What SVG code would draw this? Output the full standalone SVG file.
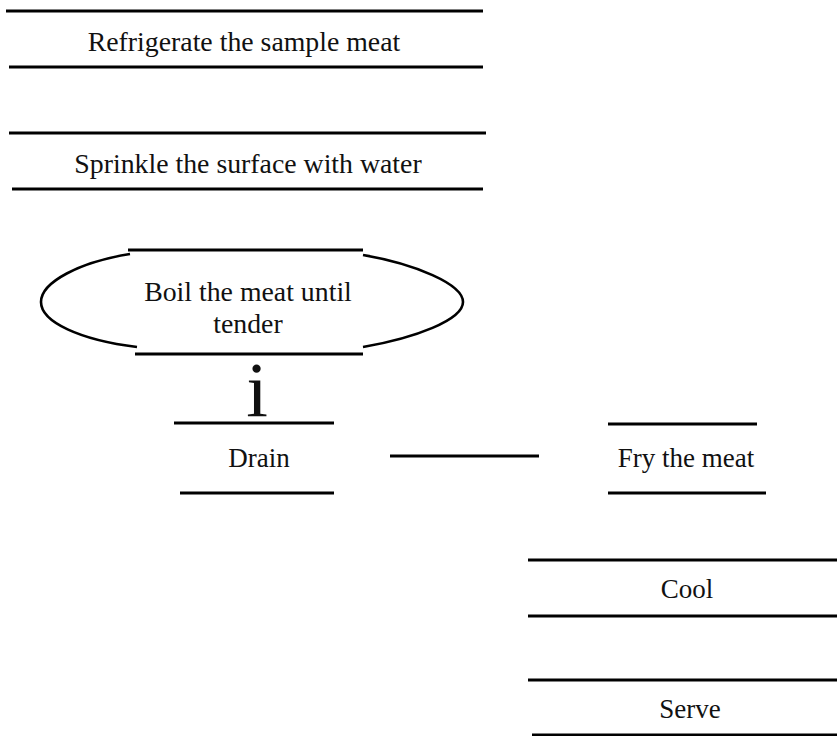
<svg xmlns="http://www.w3.org/2000/svg" width="837" height="736" viewBox="0 0 837 736">
<style>
.ln{stroke:#000;stroke-width:3;fill:none}
.arc{stroke:#000;stroke-width:2.6;fill:none}
.t{font-family:"Liberation Serif","Times New Roman",serif;font-size:27px;fill:#111;text-anchor:middle}
.t2{font-size:27.8px}
</style>
<rect width="837" height="736" fill="#fff"/>
<g id="refrigerate">
<line class="ln" x1="6" y1="11" x2="483" y2="11"/>
<line class="ln" x1="9" y1="67" x2="483" y2="67"/>
<text class="t t2" x="244" y="51">Refrigerate the sample meat</text>
</g>
<g id="sprinkle">
<line class="ln" x1="9" y1="133" x2="486" y2="133"/>
<line class="ln" x1="12" y1="189" x2="483" y2="189"/>
<text class="t t2" x="248" y="173">Sprinkle the surface with water</text>
</g>
<g id="boil">
<line class="ln" x1="128" y1="250" x2="363" y2="250"/>
<line class="ln" x1="135" y1="354" x2="363" y2="354"/>
<path class="arc" d="M130,254 C80,262 41,282 41,302 C41,322 80,340 137,347"/>
<path class="arc" d="M363,255 C415,264 463,284 463,302 C463,320 415,338 363,347"/>
<text class="t t2" x="248" y="301">Boil the meat until</text>
<text class="t t2" x="248" y="333">tender</text>
</g>
<g id="drain">
<line class="ln" x1="174" y1="423" x2="334" y2="423"/>
<line class="ln" x1="180" y1="493" x2="334" y2="493"/>
<text class="t" x="259" y="467">Drain</text>
</g>
<g id="fry">
<line class="ln" x1="608" y1="424" x2="757" y2="424"/>
<line class="ln" x1="608" y1="493" x2="766" y2="493"/>
<text class="t" x="686" y="467">Fry the meat</text>
</g>
<g id="cool">
<line class="ln" x1="528" y1="560" x2="837" y2="560"/>
<line class="ln" x1="528" y1="616" x2="837" y2="616"/>
<text class="t" x="687" y="598">Cool</text>
</g>
<g id="serve">
<line class="ln" x1="528" y1="680" x2="837" y2="680"/>
<line class="ln" x1="532" y1="735" x2="837" y2="735"/>
<text class="t" x="690" y="718">Serve</text>
</g>
<g id="connectors">
<text x="257" y="416" style="font-family:'Liberation Serif','Times New Roman',serif;font-size:78px;fill:#111;text-anchor:middle">i</text>
<line class="ln" x1="390" y1="456" x2="539" y2="456"/>
</g>
</svg>
